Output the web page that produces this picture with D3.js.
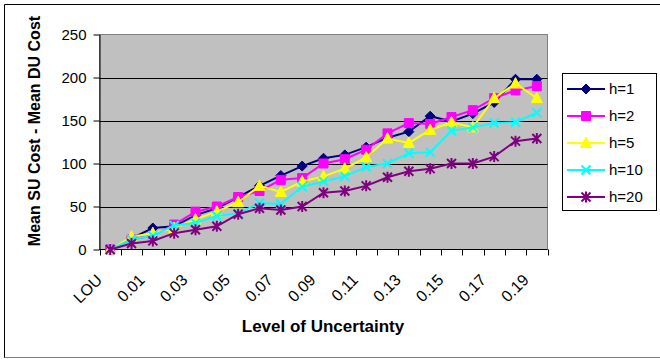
<!DOCTYPE html>
<html>
<head>
<meta charset="utf-8">
<script src="https://cdn.jsdelivr.net/npm/d3@7"></script>
<style>
  html, body { margin: 0; padding: 0; background: #fff; }
  svg { display: block; font-family: "Liberation Sans", Arial, sans-serif; }
</style>
</head>
<body>
<svg id="chart" width="660" height="359"></svg>
<script>
// Levels of uncertainty (first column is the LOU header row)
const categories = ["LOU", "0.00", "0.01", "0.02", "0.03", "0.04", "0.05", "0.06", "0.07", "0.08",
  "0.09", "0.10", "0.11", "0.12", "0.13", "0.14", "0.15", "0.16", "0.17", "0.18", "0.19"];
const shownLabels = ["LOU", "0.01", "0.03", "0.05", "0.07", "0.09", "0.11", "0.13", "0.15", "0.17", "0.19"];
const yTicks = [0, 50, 100, 150, 200, 250];

const h1  = [0, 13, 25, 27, 40, 48, 61, 74, 86, 97, 106, 110, 119, 130, 137, 155, 149, 158, 171, 198, 198];
const h2  = [0, 12, 16, 29, 44, 50, 61, 68, 81, 83, 100, 105, 116, 135, 147, 146, 154, 162, 176, 185, 190];
const h5  = [0, 15, 19, 25, 35, 44, 55, 74, 67, 79, 85, 94, 107, 129, 124, 139, 148, 142, 176, 193, 176];
const h10 = [0, 12, 16, 28, 31, 39, 42, 54, 53, 73, 79, 85, 96, 100, 112, 113, 138, 142, 147, 148, 159];
const h20 = [0, 7, 10, 19, 23, 27, 41, 48, 46, 50, 66, 68, 74, 84, 91, 94, 100, 100, 108, 126, 129];

const seriesNames = ["h=1", "h=2", "h=5", "h=10", "h=20"];
const seriesValues = [h1, h2, h5, h10, h20];
const seriesColors = ["#000080", "#ff00ff", "#ffff00", "#00ffff", "#800080"];
const seriesMarkers = ["diamond", "square", "triangle", "cross", "star"];

const svg = d3.select("#chart");
const W = 660, H = 359;
const plot = { left: 99.5, right: 547.5, top: 34.5, bottom: 249.5 };

// chart area frame
svg.append("line").attr("x1", 4.5).attr("y1", 4.5).attr("x2", 4.5).attr("y2", 358)
  .attr("stroke", "#000");
svg.append("line").attr("x1", 4.5).attr("y1", 4.5).attr("x2", W).attr("y2", 4.5)
  .attr("stroke", "#000");
svg.append("line").attr("x1", 4.5).attr("y1", 357.5).attr("x2", W).attr("y2", 357.5)
  .attr("stroke", "#808080");

const x = d3.scaleBand().domain(categories).range([plot.left, plot.right]).padding(0);
const y = d3.scaleLinear().domain([0, 250]).range([plot.bottom, plot.top]);

// plot area
svg.append("rect")
  .attr("x", plot.left).attr("y", plot.top)
  .attr("width", plot.right - plot.left).attr("height", plot.bottom - plot.top)
  .attr("fill", "#c0c0c0").attr("stroke", "#808080");

// gridlines
svg.append("g").selectAll("line").data(yTicks.filter(v => v > 0 && v < 250)).join("line")
  .attr("x1", plot.left).attr("x2", plot.right)
  .attr("y1", d => Math.round(y(d)) + 0.5).attr("y2", d => Math.round(y(d)) + 0.5)
  .attr("stroke", "#000");

// y axis
const yAxis = svg.append("g").attr("transform", `translate(${plot.left},0)`)
  .call(d3.axisLeft(y).tickValues(yTicks).tickSize(6).tickPadding(7).tickSizeOuter(0));
yAxis.select(".domain").attr("stroke", "#000");
yAxis.selectAll(".tick line").attr("stroke", "#000");
yAxis.selectAll(".tick text").attr("font-size", 15).attr("fill", "#000")
  .attr("font-family", "Liberation Sans, Arial, sans-serif");

// x axis: ticks on category boundaries
const xg = svg.append("g").attr("transform", `translate(0,${plot.bottom})`);
xg.append("line").attr("x1", plot.left).attr("x2", plot.right).attr("stroke", "#000");
const bounds = categories.map(c => x(c)).concat([x(categories[categories.length - 1]) + x.bandwidth()]);
xg.selectAll("line.tk").data(bounds).join("line").attr("class", "tk")
  .attr("x1", d => Math.round(d) + 0.5).attr("x2", d => Math.round(d) + 0.5)
  .attr("y1", 0).attr("y2", 6).attr("stroke", "#000");
xg.selectAll("text").data(shownLabels).join("text")
  .attr("transform", d => `translate(${x(d) + x.bandwidth() / 2 - 7},31.5) rotate(-45)`)
  .attr("text-anchor", "end")
  .attr("font-size", 16)
  .text(d => d);

// series lines and markers
const line = d3.line().x((d, i) => x(categories[i]) + x.bandwidth() / 2).y(d => y(d));

function markerPath(type) {
  switch (type) {
    case "diamond": return "M0,-5L5,0L0,5L-5,0Z";
    case "square": return "M-4.5,-4.5H4.5V4.5H-4.5Z";
    case "triangle": return "M0,-6L5.5,4.5L-5.5,4.5Z";
    case "cross": return "M-4.5,-4.5L4.5,4.5M4.5,-4.5L-4.5,4.5";
    case "star": return "M-4.5,-4.5L4.5,4.5M4.5,-4.5L-4.5,4.5M0,-5.5V5.5";
  }
}
function drawMarker(g, type, color) {
  const filled = type === "diamond" || type === "square" || type === "triangle";
  g.append("path").attr("d", markerPath(type))
    .attr("fill", filled ? color : "none")
    .attr("stroke", color)
    .attr("stroke-width", filled ? 1 : 2);
}

seriesValues.forEach((vals, s) => {
  const g = svg.append("g");
  g.append("path").datum(vals).attr("d", line)
    .attr("fill", "none").attr("stroke", seriesColors[s]).attr("stroke-width", 2);
  vals.forEach((v, i) => {
    const mg = g.append("g")
      .attr("transform", `translate(${x(categories[i]) + x.bandwidth() / 2},${y(v)})`);
    drawMarker(mg, seriesMarkers[s], seriesColors[s]);
  });
});

// axis titles
svg.append("text")
  .attr("transform", `translate(40,131) rotate(-90)`)
  .attr("text-anchor", "middle")
  .attr("font-size", 16).attr("font-weight", "bold")
  .text("Mean SU Cost - Mean DU Cost");
svg.append("text")
  .attr("x", 323).attr("y", 332)
  .attr("text-anchor", "middle")
  .attr("font-size", 17).attr("font-weight", "bold")
  .text("Level of Uncertainty");

// legend
const lg = svg.append("g");
lg.append("rect").attr("x", 562.5).attr("y", 73.5).attr("width", 94).attr("height", 137)
  .attr("fill", "#fff").attr("stroke", "#000");
seriesNames.forEach((name, s) => {
  const cy = 89 + s * 27;
  const row = lg.append("g").attr("transform", `translate(0,${cy})`);
  row.append("line").attr("x1", 567).attr("x2", 605).attr("stroke", seriesColors[s]).attr("stroke-width", 2);
  const mg = row.append("g").attr("transform", "translate(586,0)");
  drawMarker(mg, seriesMarkers[s], seriesColors[s]);
  row.append("text").attr("x", 609).attr("dy", "0.36em").attr("font-size", 15).text(name);
});
</script>
</body>
</html>
